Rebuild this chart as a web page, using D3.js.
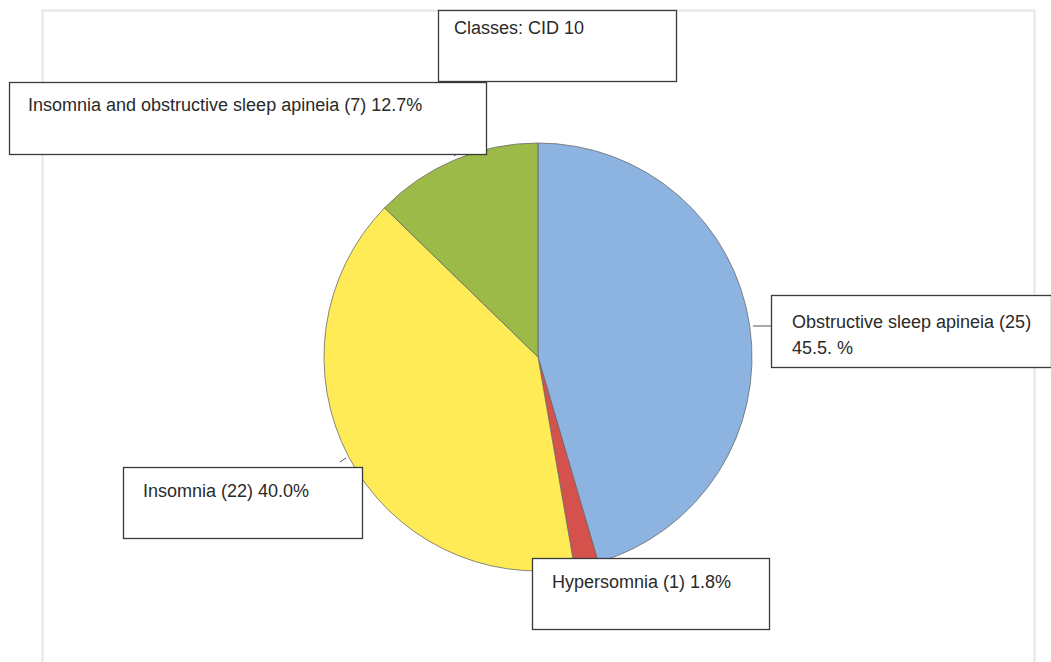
<!DOCTYPE html>
<html>
<head>
<meta charset="utf-8">
<script src="https://cdn.jsdelivr.net/npm/d3@7"></script>
<style>
  body { margin: 0; background: #fff; }
  text { font-family: "Liberation Sans", Arial, sans-serif; fill: #2a2a2a; }
</style>
</head>
<body>
<div id="chart"></div>
<script>
// data
var categories = ["Obstructive sleep apineia", "Hypersomnia", "Insomnia", "Insomnia and obstructive sleep apineia"];
var counts = [25, 1, 22, 7];
var labelLines = [
  ["Obstructive sleep apineia (25)", "45.5. %"],
  ["Hypersomnia (1) 1.8%"],
  ["Insomnia (22) 40.0%"],
  ["Insomnia and obstructive sleep apineia (7) 12.7%"]
];
var colors = ["#8db3e1", "#d5514c", "#feeb55", "#9bba47"];
var title = "Classes: CID 10";

var svgWidth = 1051;
var svgHeight = 662;

var svg = d3.select("#chart")
  .append("svg")
  .attr("width", svgWidth)
  .attr("height", svgHeight);

// faint outer frame
svg.append("rect")
  .attr("x", 42.5).attr("y", 10.5)
  .attr("width", 992).attr("height", 700)
  .attr("fill", "none")
  .attr("stroke", "#e6e6e6")
  .attr("stroke-width", 2);

var cx = 538, cy = 357, radius = 214;

var pie = d3.pie().sort(null).value(d => d.count);
var arc = d3.arc().innerRadius(0).outerRadius(radius);

var data = categories.map((c, i) => ({ name: c, count: counts[i], color: colors[i], lines: labelLines[i] }));
var arcs = pie(data);

var pieGroup = svg.append("g")
  .attr("transform", `translate(${cx}, ${cy})`);

pieGroup.selectAll("path")
  .data(arcs)
  .enter()
  .append("path")
  .attr("d", arc)
  .attr("fill", d => d.data.color)
  .attr("stroke", "#6b6b6b")
  .attr("stroke-width", 0.8);

// label boxes (positions)
var boxes = [
  { x: 771, y: 295, w: 280, h: 72, tx: 792, ty: 328, dy: 26 },
  { x: 532, y: 558, w: 237, h: 71, tx: 552, ty: 588, dy: 0 },
  { x: 123, y: 467, w: 239, h: 71, tx: 143, ty: 497, dy: 0 },
  { x: 9, y: 82, w: 477, h: 72, tx: 28, ty: 111, dy: 0 }
];

// leader lines
svg.append("line")
  .attr("x1", 753).attr("y1", 326)
  .attr("x2", boxes[0].x).attr("y2", 326)
  .attr("stroke", "#555").attr("stroke-width", 1);

svg.append("line")
  .attr("x1", 340).attr("y1", 462).attr("x2", 346).attr("y2", 458)
  .attr("stroke", "#555").attr("stroke-width", 1);
svg.append("line")
  .attr("x1", 454).attr("y1", 156).attr("x2", 460).attr("y2", 152)
  .attr("stroke", "#555").attr("stroke-width", 1);

var labelG = svg.append("g").attr("class", "labels");

data.forEach(function(d, i) {
  var b = boxes[i];
  labelG.append("rect")
    .attr("x", b.x + 0.5).attr("y", b.y + 0.5)
    .attr("width", b.w).attr("height", b.h)
    .attr("fill", "#fff")
    .attr("stroke", "#3a3a3a")
    .attr("stroke-width", 1.3);
  d.lines.forEach(function(line, j) {
    labelG.append("text")
      .attr("x", b.tx)
      .attr("y", b.ty + j * b.dy)
      .attr("font-size", 18)
      .text(line);
  });
});

// title box
svg.append("rect")
  .attr("x", 438.5).attr("y", 10.5)
  .attr("width", 238).attr("height", 71)
  .attr("fill", "#fff")
  .attr("stroke", "#3a3a3a")
  .attr("stroke-width", 1.3);
svg.append("text")
  .attr("x", 454).attr("y", 34)
  .attr("font-size", 18)
  .text(title);
</script>
</body>
</html>
